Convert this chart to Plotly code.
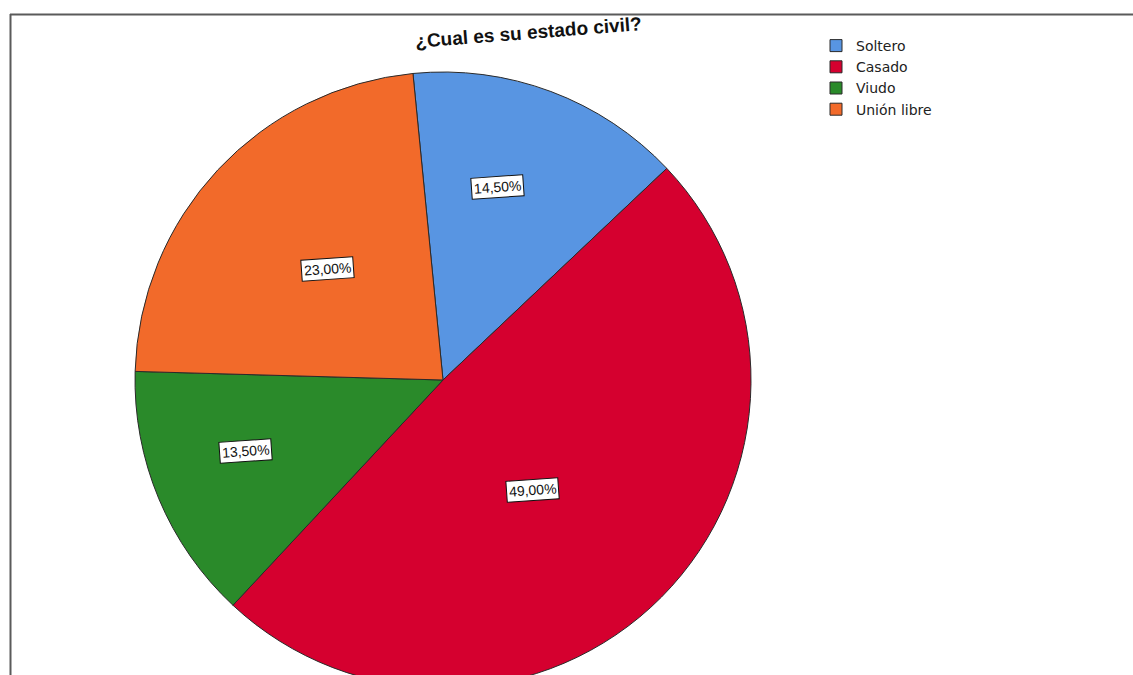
import math
import plotly.graph_objects as go

# Estado civil: categorías y porcentajes
categorias = ["Soltero", "Casado", "Viudo", "Unión libre"]
porcentajes = [14.5, 49.0, 13.5, 23.0]
etiquetas = ["14,50%", "49,00%", "13,50%", "23,00%"]
colores = ["#5895e2", "#d5002f", "#2a8a2a", "#f26a2a"]

# Geometry of the canvas (pixels)
W, H = 1133, 690
CX, CY, R = 443, 380, 308
ROTATION = -5.6
# placement of each value box: fraction of the radius and angle offset (deg)
label_r = [0.65, 0.46, 0.68, 0.52]
label_dang = [-4.6, 5.9, 3.0, 0.7]

FONT = "Liberation Sans, Arial, sans-serif"


def px_x(x):
    return x / W


def px_y(y):
    return (H - y) / H


fig = go.Figure()
fig.add_trace(go.Pie(
    labels=categorias,
    values=porcentajes,
    sort=False,
    direction="clockwise",
    rotation=ROTATION,
    textinfo="none",
    hoverinfo="label+percent",
    marker=dict(colors=colores, line=dict(color="#2a2a2a", width=1)),
    domain=dict(x=[px_x(CX - R), px_x(CX + R)], y=[px_y(CY + R), px_y(CY - R)]),
))

# value boxes placed around the middle angle of every slice
total = sum(porcentajes)
acc = 0.0
annotations = []
for val, txt, fr, da in zip(porcentajes, etiquetas, label_r, label_dang):
    mid = ROTATION + 360.0 * (acc + val / 2) / total + da
    acc += val
    th = math.radians(mid)
    x = CX + R * fr * math.sin(th)
    y = CY - R * fr * math.cos(th)
    annotations.append(dict(
        x=px_x(x), y=px_y(y), xref="paper", yref="paper",
        xanchor="center", yanchor="middle",
        text=txt, showarrow=False, textangle=-4,
        font=dict(family=FONT, size=14, color="#111"),
        bgcolor="white", bordercolor="#111", borderwidth=1, borderpad=2,
    ))

annotations.append(dict(
    x=px_x(528), y=px_y(33), xref="paper", yref="paper",
    xanchor="center", yanchor="middle",
    text="<b>¿Cual es su estado civil?</b>", showarrow=False, textangle=-4.5,
    font=dict(family=FONT, size=19, color="#111"),
))

shapes = [
    dict(type="line", xref="paper", yref="paper", x0=px_x(10), x1=1, y0=px_y(14.5), y1=px_y(14.5),
         line=dict(color="#5a5a5a", width=2)),
    dict(type="line", xref="paper", yref="paper", x0=px_x(10.5), x1=px_x(10.5), y0=0, y1=px_y(14),
         line=dict(color="#5a5a5a", width=2)),
]

fig.update_layout(
    width=W, height=H,
    margin=dict(l=0, r=0, t=0, b=0),
    paper_bgcolor="white", plot_bgcolor="white",
    showlegend=True,
    legend=dict(
        x=px_x(816), y=px_y(30), xanchor="left", yanchor="top",
        font=dict(family="DejaVu Sans, Verdana, sans-serif", size=14, color="#222"),
        bgcolor="rgba(0,0,0,0)", itemwidth=30, tracegroupgap=0,
    ),
    annotations=annotations,
    shapes=shapes,
)

fig.write_html(
    "out.html",
    post_script="document.body.style.margin='0';document.body.style.overflow='hidden';"
                "document.documentElement.style.overflow='hidden';",
)
